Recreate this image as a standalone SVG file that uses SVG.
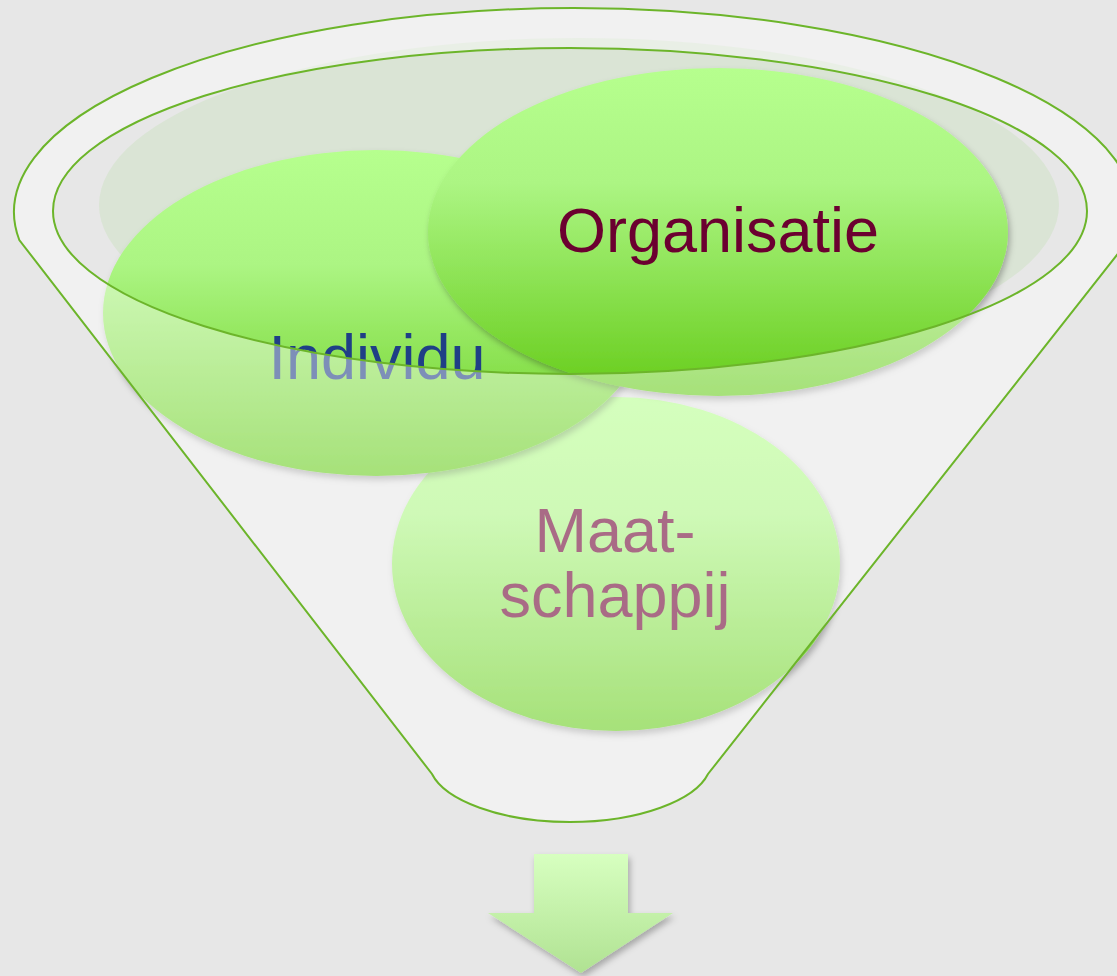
<svg xmlns="http://www.w3.org/2000/svg" width="1117" height="976" viewBox="0 0 1117 976">
  <defs>
    <linearGradient id="ballFill" x1="0" y1="0" x2="0" y2="1">
      <stop offset="0" stop-color="#b6ff8e"/>
      <stop offset="0.35" stop-color="#acf583"/>
      <stop offset="1" stop-color="#66cc1a"/>
    </linearGradient>
    <linearGradient id="arrowFill" x1="0" y1="0" x2="0" y2="1">
      <stop offset="0" stop-color="#d7ffc0"/>
      <stop offset="1" stop-color="#b0e292"/>
    </linearGradient>
    <filter id="softShadow" x="-10%" y="-10%" width="125%" height="130%">
      <feDropShadow dx="2" dy="4" stdDeviation="3" flood-color="#000" flood-opacity="0.28"/>
    </filter>
    <style>
      .ball { fill: url(#ballFill); filter: url(#softShadow); }
      .label { font-family: "Liberation Sans", Arial, sans-serif; font-size: 63px; text-anchor: middle; }
      .rim { fill: none; stroke: #6cb52a; stroke-width: 2; }
    </style>
  </defs>

  <!-- backdrop -->
  <rect width="1117" height="976" fill="#e7e7e7"/>

  <!-- back wall of the funnel mouth -->
  <ellipse cx="579" cy="205" rx="480" ry="167" fill="#dae4d5"/>

  <!-- balls inside the funnel -->
  <g id="node-maatschappij">
    <ellipse class="ball" cx="616" cy="564" rx="224" ry="167"/>
    <text class="label" x="615" y="552" fill="#6b0030">Maat-</text>
    <text class="label" x="615" y="617" fill="#6b0030">schappij</text>
  </g>
  <g id="node-individu">
    <ellipse class="ball" cx="376" cy="313" rx="273" ry="163"/>
    <text class="label" x="377" y="379" fill="#1f3f86">Individu</text>
  </g>
  <g id="node-organisatie">
    <ellipse class="ball" cx="718" cy="232" rx="290" ry="164"/>
    <text class="label" x="718" y="252" fill="#6b0030">Organisatie</text>
  </g>

  <!-- translucent funnel body, open at the inner rim -->
  <path fill="#ffffff" fill-opacity="0.42" fill-rule="evenodd"
        d="M 19.3,240 A 560 204 0 1 1 1128.7,240 L 708,774 C 695,800 640,822 570,822 C 500,822 445,800 432,774 Z
           M 53,211 A 517 163 0 1 0 1087,211 A 517 163 0 1 0 53,211 Z"/>

  <!-- funnel outlines -->
  <g id="connectors">
    <path class="rim" d="M 19.3,240 A 560 204 0 1 1 1128.7,240 L 708,774 C 695,800 640,822 570,822 C 500,822 445,800 432,774 Z"/>
    <ellipse class="rim" cx="570" cy="211" rx="517" ry="163"/>
  </g>

  <!-- output arrow -->
  <g id="node-arrow">
    <path d="M 534,854 H 628 V 913 H 673 L 581,973 L 488,913 H 534 Z" fill="url(#arrowFill)" filter="url(#softShadow)"/>
  </g>
</svg>
